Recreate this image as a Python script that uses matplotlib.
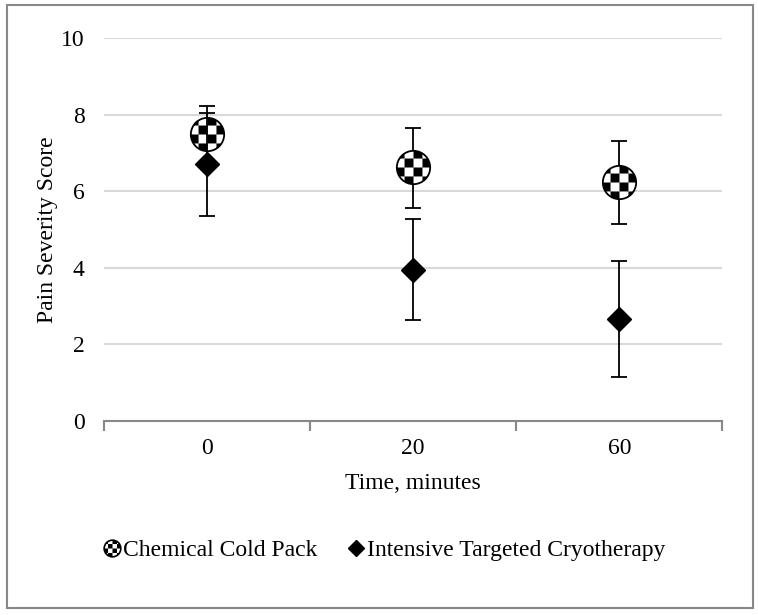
import numpy as np
import matplotlib
matplotlib.use("Agg")
import matplotlib.pyplot as plt
from matplotlib.path import Path
from matplotlib.patches import Rectangle
from matplotlib.lines import Line2D

categories = ["0", "20", "60"]
cold_mean = [7.49, 6.63, 6.25]
cold_upper = [8.22, 7.65, 7.31]
cold_lower = [6.76, 5.56, 5.14]
cryo_mean = [6.71, 3.94, 2.66]
cryo_upper = [8.05, 5.27, 4.18]
cryo_lower = [5.35, 2.64, 1.16]
series_names = ["Chemical Cold Pack", "Intensive Targeted Cryotherapy"]

plt.rcParams['font.family'] = ['Liberation Serif', 'DejaVu Serif']
FS = 17


def checker_path(n=4):
    """Black cells of a checkerboard clipped to a unit-radius circle."""
    verts, codes = [], []
    cell = 2.0 / n
    off = -cell * n / 2
    for i in range(n):
        for j in range(n):
            if (i + j) % 2 == 0:
                continue
            x0 = off + i * cell
            y0 = off + j * cell
            t = np.linspace(0, 1, 14)
            pts = np.concatenate([
                np.column_stack([x0 + t * cell, np.full_like(t, y0)]),
                np.column_stack([np.full_like(t, x0 + cell), y0 + t * cell]),
                np.column_stack([x0 + cell - t * cell, np.full_like(t, y0 + cell)]),
                np.column_stack([np.full_like(t, x0), y0 + cell - t * cell]),
            ])
            r = np.hypot(pts[:, 0], pts[:, 1])
            scale = np.where(r > 0.93, 0.93 / np.maximum(r, 1e-9), 1.0)
            pts = pts * scale[:, None]
            verts.extend(pts.tolist())
            verts.append(pts[0].tolist())
            codes.extend([Path.MOVETO] + [Path.LINETO] * (len(pts) - 1) + [Path.CLOSEPOLY])
    return Path(verts, codes)


checker = checker_path()

fig = plt.figure(figsize=(7.58, 6.15), dpi=100)
ax = fig.add_axes([0.137, 0.3154, 0.816, 0.6228])

x = np.arange(len(categories))

# Cold pack
ce = [np.array(cold_mean) - np.array(cold_lower), np.array(cold_upper) - np.array(cold_mean)]
ax.errorbar(x, cold_mean, yerr=ce, fmt='none', ecolor='black', elinewidth=1.3,
            capsize=6, capthick=1.3, zorder=3)
ax.plot(x, cold_mean, linestyle='none', marker='o', markersize=24,
        markerfacecolor='white', markeredgecolor='black', markeredgewidth=1.3, zorder=4)
ax.plot(x, cold_mean, linestyle='none', marker=checker, markersize=24,
        markerfacecolor='black', markeredgecolor='none', zorder=5)

# Cryotherapy
de = [np.array(cryo_mean) - np.array(cryo_lower), np.array(cryo_upper) - np.array(cryo_mean)]
ax.errorbar(x, cryo_mean, yerr=de, fmt='none', ecolor='black', elinewidth=1.3,
            capsize=6, capthick=1.3, zorder=6)
ax.plot(x, cryo_mean, linestyle='none', marker='D', markersize=12.5,
        markerfacecolor='black', markeredgecolor='black', zorder=7)

ax.set_xlim(-0.5, 2.5)
ax.set_ylim(0, 10)
ax.set_yticks([0, 2, 4, 6, 8, 10])
ax.set_xticks(x)
ax.set_xticklabels(categories)
ax.grid(axis='y', color='#d9d9d9', linewidth=1.5, zorder=0)
ax.set_axisbelow(True)
for s in ['top', 'right', 'left']:
    ax.spines[s].set_visible(False)
ax.spines['bottom'].set_color('#888888')
ax.spines['bottom'].set_linewidth(1.5)
ax.tick_params(axis='y', length=0, pad=14, labelsize=FS)
ax.tick_params(axis='x', length=0, pad=12, labelsize=FS)
# category boundary ticks
ax.set_xticks([-0.5, 0.5, 1.5, 2.5], minor=True)
ax.tick_params(axis='x', which='minor', length=7, width=1.5, color='#888888', direction='out')

ax.set_xlabel("Time, minutes", fontsize=FS, labelpad=10)
ax.set_ylabel("Pain Severity Score", fontsize=FS, labelpad=2)

# legend
h1a = Line2D([], [], linestyle='none', marker='o', markersize=12, markerfacecolor='white',
             markeredgecolor='black', markeredgewidth=1.2)
h1b = Line2D([], [], linestyle='none', marker=checker, markersize=12, markerfacecolor='black',
             markeredgecolor='none')
h2 = Line2D([], [], linestyle='none', marker='D', markersize=8, markerfacecolor='black',
            markeredgecolor='black')
fig.legend([(h1a, h1b), h2], series_names, loc='center', bbox_to_anchor=(0.505, 0.105),
           ncol=2, frameon=False, fontsize=FS, handletextpad=0.0, columnspacing=1.1,
           handlelength=1.0)

# outer border
fig.patches.append(Rectangle((0.009, 0.012), 0.984, 0.98, transform=fig.transFigure,
                             fill=False, edgecolor='#888888', linewidth=1.5))

fig.savefig("out.png", dpi=100)
